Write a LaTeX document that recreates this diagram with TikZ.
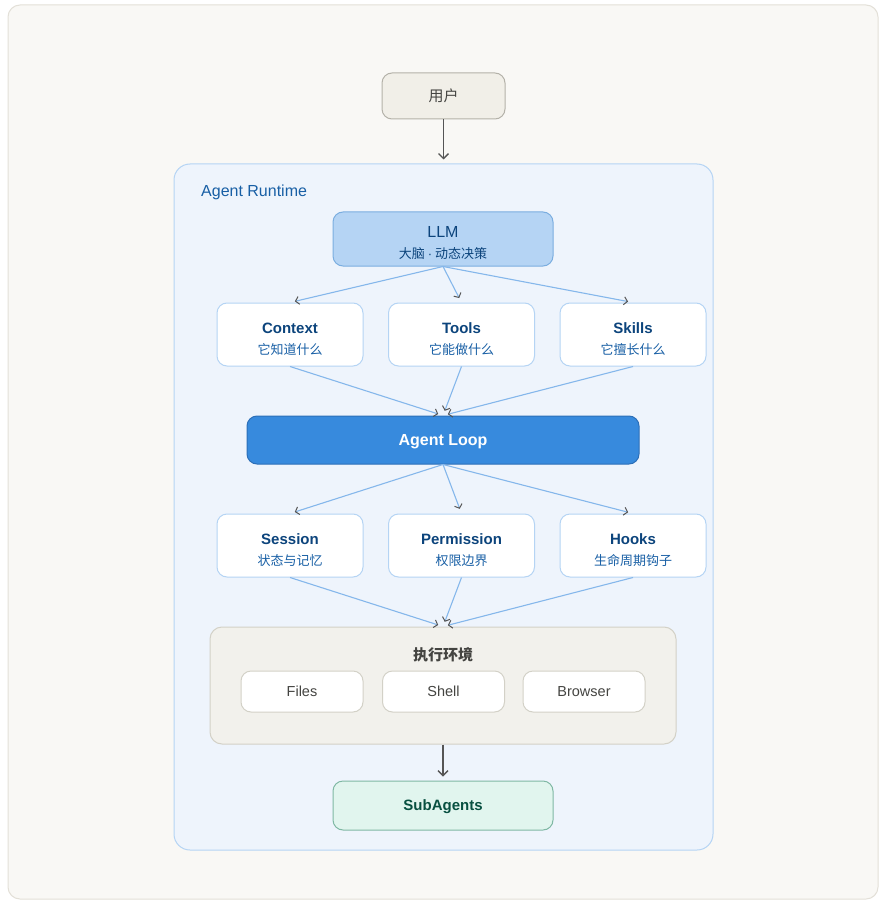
\documentclass[tikz,border=0pt]{standalone}
\usepackage{fontspec}
\setmainfont{Liberation Sans}
\newfontfamily\cjk{Noto Sans CJK SC}
\newfontfamily\latin{Liberation Sans}
\usetikzlibrary{arrows.meta}
\definecolor{framefill}{HTML}{F9F8F5}
\definecolor{frameline}{HTML}{E3E0D8}
\definecolor{userfill}{HTML}{F1EFE8}
\definecolor{userline}{HTML}{B4B2A9}
\definecolor{rtfill}{HTML}{EEF4FC}
\definecolor{rtline}{HTML}{B5D4F4}
\definecolor{llmfill}{HTML}{B5D4F4}
\definecolor{llmline}{HTML}{7BAEE0}
\definecolor{cardline}{HTML}{B5D4F4}
\definecolor{loopfill}{HTML}{378ADD}
\definecolor{loopline}{HTML}{2C6FB8}
\definecolor{execfill}{HTML}{F2F1EC}
\definecolor{execline}{HTML}{D3D1C7}
\definecolor{subfill}{HTML}{E1F5EE}
\definecolor{subline}{HTML}{7FB8A4}
\definecolor{subtext}{HTML}{085041}
\definecolor{linkblue}{HTML}{85B7EB}
\definecolor{agray}{HTML}{555555}
\definecolor{titleblue}{HTML}{0C447C}
\definecolor{subblue}{HTML}{185FA5}
\definecolor{darktext}{HTML}{444441}
\begin{document}
\begin{tikzpicture}[x=1pt,y=-1pt,
  boxstyle/.style={draw, rounded corners=10pt, inner sep=0pt, line width=1pt},
  card/.style={boxstyle, fill=white, draw=cardline, minimum width=146pt, minimum height=63pt},
  envbox/.style={boxstyle, fill=white, draw=execline, minimum width=122pt, minimum height=41pt,
     font=\fontsize{14.5}{17}\selectfont, text=darktext, text height=10.5pt, text depth=0pt},
  ttl/.style={inner sep=0pt, font=\fontsize{15}{18}\selectfont\bfseries, text=titleblue,
     text height=10.8pt, text depth=0pt},
  stl/.style={inner sep=0pt, font=\cjk\fontsize{13}{16}\selectfont, text=subblue,
     text height=9.5pt, text depth=0pt},
  blink/.style={draw=linkblue, line width=1.1pt, shorten >=5pt,
     -{Straight Barb[length=3.5pt,width=8pt,color=agray,line width=1pt]}},
  glink/.style={draw=agray, line width=1.4pt, shorten >=4pt,
     -{Straight Barb[length=5pt,width=10pt,color=agray,line width=1.3pt]}}
]
\useasboundingbox (0,0) rectangle (885,909);
\fill[white] (0,0) rectangle (885,909);
\node[boxstyle, rounded corners=12pt, fill=framefill, draw=frameline, minimum width=870pt, minimum height=894pt] (frame) at (443,452) {};

\node[boxstyle, fill=userfill, draw=userline, minimum width=123pt, minimum height=46pt,
  font=\cjk\fontsize{15}{17}\selectfont, text=darktext, text height=11pt, text depth=0pt] (user) at (443.5,96) {用户};

\node[boxstyle, rounded corners=16pt, fill=rtfill, draw=rtline, minimum width=539pt, minimum height=686pt] (runtime) at (443.5,507) {};
\node[anchor=west, inner sep=0pt, font=\fontsize{16}{18}\selectfont, text=subblue,
  text height=11.5pt, text depth=0pt] (rtlabel) at (201,191) {Agent Runtime};

\node[boxstyle, fill=llmfill, draw=llmline, minimum width=220pt, minimum height=54pt] (llm) at (443,239) {};
\node[ttl, font=\fontsize{16}{18}\selectfont, text height=11.5pt] (llmt) at (443,232) {LLM};
\node[stl, text=titleblue] (llms) at (443,254) {大脑 {\latin ·} 动态决策};

\node[card] (ctx) at (290,334.5) {};
\node[ttl] (ctxt) at (290,328) {Context};
\node[stl] (ctxs) at (290,350) {它知道什么};
\node[card] (tools) at (461.5,334.5) {};
\node[ttl] (toolst) at (461.5,328) {Tools};
\node[stl] (toolss) at (461.5,350) {它能做什么};
\node[card] (skills) at (633,334.5) {};
\node[ttl] (skillst) at (633,328) {Skills};
\node[stl] (skillss) at (633,350) {它擅长什么};

\node[boxstyle, fill=loopfill, draw=loopline, minimum width=392pt, minimum height=48pt,
  font=\fontsize{16}{18}\selectfont\bfseries, text=white, text height=11.5pt, text depth=0pt] (loop) at (443,440) {Agent Loop};

\node[card] (ses) at (290,545.5) {};
\node[ttl] (sest) at (290,539) {Session};
\node[stl] (sess) at (290,561) {状态与记忆};
\node[card] (perm) at (461.5,545.5) {};
\node[ttl] (permt) at (461.5,539) {Permission};
\node[stl] (perms) at (461.5,561) {权限边界};
\node[card] (hooks) at (633,545.5) {};
\node[ttl] (hookst) at (633,539) {Hooks};
\node[stl] (hookss) at (633,561) {生命周期钩子};

\node[boxstyle, rounded corners=12pt, fill=execfill, draw=execline, minimum width=466pt, minimum height=117pt] (exec) at (443,685.5) {};
\node[inner sep=0pt, font=\cjk\fontsize{15}{18}\selectfont\bfseries, text=darktext,
  text height=11pt, text depth=0pt] (exect) at (443,655) {执行环境};
\node[envbox] (files) at (302,691.5) {Files};
\node[envbox] (shell) at (443.5,691.5) {Shell};
\node[envbox] (browser) at (584,691.5) {Browser};

\node[boxstyle, fill=subfill, draw=subline, minimum width=220pt, minimum height=49pt,
  font=\fontsize{15}{18}\selectfont\bfseries, text=subtext, text height=10.8pt, text depth=0pt] (sub) at (443,805.5) {SubAgents};

\draw[glink] (user.south) -- (runtime.north);
\draw[blink] (llm.south) -- (ctx.north);
\draw[blink] (llm.south) -- (tools.north);
\draw[blink] (llm.south) -- (skills.north);
\draw[blink] (ctx.south) -- (loop.north);
\draw[blink] (tools.south) -- (loop.north);
\draw[blink] (skills.south) -- (loop.north);
\draw[blink] (loop.south) -- (ses.north);
\draw[blink] (loop.south) -- (perm.north);
\draw[blink] (loop.south) -- (hooks.north);
\draw[blink] (ses.south) -- (exec.north);
\draw[blink] (perm.south) -- (exec.north);
\draw[blink] (hooks.south) -- (exec.north);
\draw[glink] (exec.south) -- (sub.north);
\end{tikzpicture}
\end{document}
